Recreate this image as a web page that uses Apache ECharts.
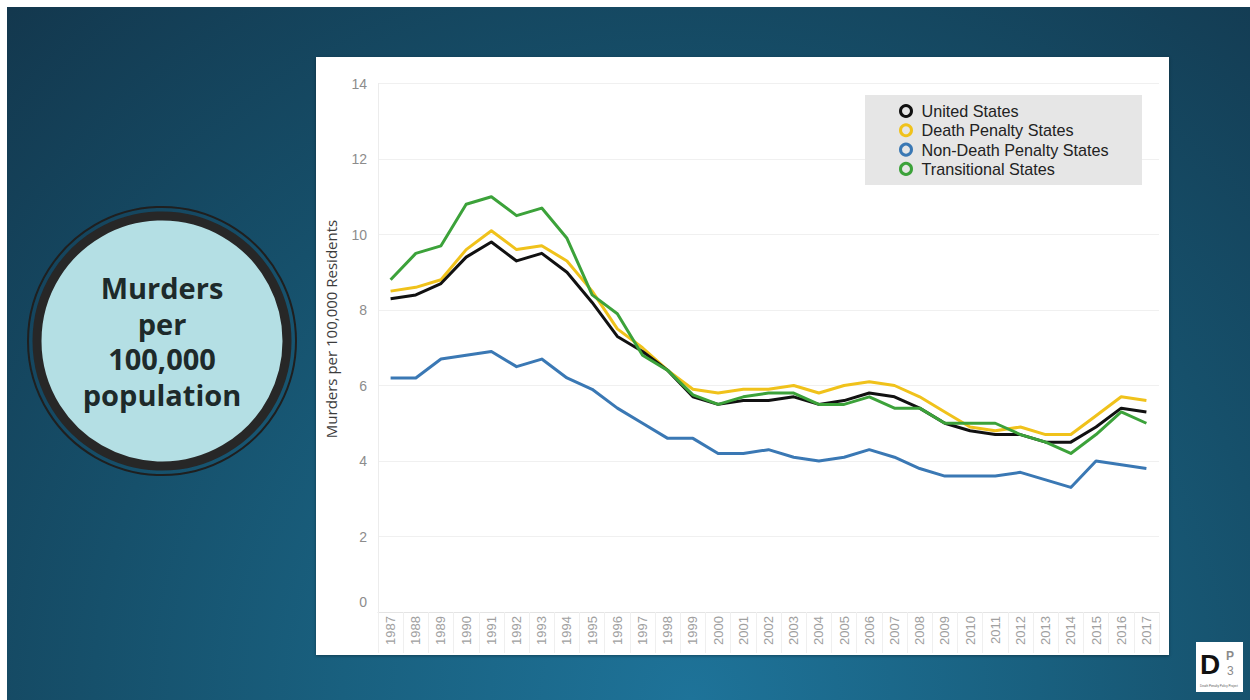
<!DOCTYPE html>
<html>
<head>
<meta charset="utf-8">
<script src="https://cdn.jsdelivr.net/npm/echarts@6/dist/echarts.min.js"></script>
<style>
  html, body { margin: 0; padding: 0; background: #ffffff; }
  #slide {
    position: absolute; left: 7px; top: 7px; width: 1243px; height: 693px;
    background: radial-gradient(ellipse 80% 140% at 55% 100%, #1e7399 0%, #19607f 35%, #16506b 60%, #13374d 100%);
  }
  #panel {
    position: absolute; left: 316px; top: 57px; width: 853px; height: 598px;
    background: #ffffff; box-shadow: 0 1px 3px rgba(0,0,0,0.35);
  }
  #chart { position: absolute; left: 0; top: 0; width: 1250px; height: 700px; }
</style>
</head>
<body>
<div id="slide"></div>
<div id="panel"></div>
<div id="chart"></div>
<script>
// Murder rate per 100,000 residents, 1987-2017
const years = ['1987','1988','1989','1990','1991','1992','1993','1994','1995','1996',
  '1997','1998','1999','2000','2001','2002','2003','2004','2005','2006',
  '2007','2008','2009','2010','2011','2012','2013','2014','2015','2016','2017'];

const unitedStates = [8.3, 8.4, 8.7, 9.4, 9.8, 9.3, 9.5, 9.0, 8.2, 7.3,
  6.9, 6.4, 5.7, 5.5, 5.6, 5.6, 5.7, 5.5, 5.6, 5.8,
  5.7, 5.4, 5.0, 4.8, 4.7, 4.7, 4.5, 4.5, 4.9, 5.4, 5.3];

const deathPenaltyStates = [8.5, 8.6, 8.8, 9.6, 10.1, 9.6, 9.7, 9.3, 8.5, 7.5,
  7.0, 6.4, 5.9, 5.8, 5.9, 5.9, 6.0, 5.8, 6.0, 6.1,
  6.0, 5.7, 5.3, 4.9, 4.8, 4.9, 4.7, 4.7, 5.2, 5.7, 5.6];

const nonDeathPenaltyStates = [6.2, 6.2, 6.7, 6.8, 6.9, 6.5, 6.7, 6.2, 5.9, 5.4,
  5.0, 4.6, 4.6, 4.2, 4.2, 4.3, 4.1, 4.0, 4.1, 4.3,
  4.1, 3.8, 3.6, 3.6, 3.6, 3.7, 3.5, 3.3, 4.0, 3.9, 3.8];

const transitionalStates = [8.8, 9.5, 9.7, 10.8, 11.0, 10.5, 10.7, 9.9, 8.4, 7.9,
  6.8, 6.4, 5.75, 5.5, 5.7, 5.8, 5.8, 5.5, 5.5, 5.7,
  5.4, 5.4, 5.0, 5.0, 5.0, 4.7, 4.5, 4.2, 4.7, 5.3, 5.0];

const seriesNames = ['United States', 'Death Penalty States', 'Non-Death Penalty States', 'Transitional States'];
const seriesColors = ['#111111', '#f0c21b', '#3a78b4', '#3ca23a'];
const seriesData = [unitedStates, deathPenaltyStates, nonDeathPenaltyStates, transitionalStates];
const seriesOrder = [5, 4, 3, 6];

const yTicks = { min: 0, max: 14, step: 2 };

const chart = echarts.init(document.getElementById('chart'), null, { renderer: 'svg' });

const option = {
  animation: false,
  grid: { left: 378, top: 83.5, width: 781, height: 528.5, containLabel: false },
  xAxis: {
    type: 'category',
    data: years,
    boundaryGap: true,
    axisLine: { show: true, lineStyle: { color: '#e4e4e4', width: 1 } },
    axisTick: { show: true, interval: 0, length: 41, lineStyle: { color: '#efefef' } },
    axisLabel: {
      interval: 0, rotate: 90, margin: 4,
      color: '#a0a0a0', fontSize: 13, fontFamily: 'Liberation Sans'
    },
    splitLine: { show: false }
  },
  yAxis: {
    type: 'value',
    min: yTicks.min, max: yTicks.max, interval: yTicks.step,
    axisLine: { show: true, lineStyle: { color: '#ececec' } },
    axisTick: { show: false },
    splitLine: { lineStyle: { color: '#f0f0f0', width: 1 } },
    axisLabel: {
      margin: 11, color: '#8c8c8c', fontSize: 14, fontFamily: 'Liberation Sans',
      formatter: function (v) { return v === 0 ? '{z|0}' : String(v); },
      rich: { z: { padding: [0, 0, 20, 0], color: '#8c8c8c', fontSize: 14, fontFamily: 'Liberation Sans' } }
    }
  },
  legend: {
    orient: 'vertical',
    left: 899, top: 103,
    padding: 0,
    itemWidth: 11, itemHeight: 11, itemGap: 3.3,
    icon: 'circle',
    textStyle: { fontSize: 16.2, color: '#222222', fontFamily: 'Liberation Sans', padding: [0, 0, 0, 5] },
    data: seriesNames.map((n, i) => ({
      name: n,
      itemStyle: { color: '#e6e6e6', borderColor: seriesColors[i], borderWidth: 3 }
    })),
    selectedMode: false,
    z: 5
  },
  series: seriesNames.map((n, i) => ({
    name: n,
    type: 'line',
    data: seriesData[i],
    symbol: 'none',
    color: seriesColors[i],
    lineStyle: { width: 3, color: seriesColors[i], join: 'round' },
    emphasis: { disabled: true },
    z: seriesOrder[i]
  })),
  graphic: [
    // legend backdrop
    { type: 'rect', z: 1, shape: { x: 865, y: 95, width: 277, height: 90 }, style: { fill: '#e6e6e6' } },
    // badge on the left
    { type: 'circle', z: 1, shape: { cx: 162, cy: 341, r: 134 }, style: { fill: 'none', stroke: '#1f1f1f', lineWidth: 2 } },
    { type: 'circle', z: 1, shape: { cx: 162, cy: 341, r: 125 }, style: { fill: '#b4dfe4', stroke: '#272727', lineWidth: 9 } },
    { type: 'text', z: 2, x: 162, y: 341,
      style: { text: 'Murders\nper\n100,000\npopulation', fill: '#1e2a2a', font: 'bold 29px "Open Sans"',
        lineHeight: 35.5, textAlign: 'center', textVerticalAlign: 'middle' } },
    // y axis title
    { type: 'text', z: 2, x: 331, y: 329, rotation: Math.PI / 2,
      style: { text: 'Murders per 100,000 Residents', fill: '#3c3c3c', font: '15px "Open Sans"', textAlign: 'center', textVerticalAlign: 'middle' } },
    // logo block
    { type: 'rect', z: 1, shape: { x: 1196, y: 642, width: 47, height: 50 }, style: { fill: '#ffffff' } },
    { type: 'text', z: 2, x: 1200, y: 664, style: { text: 'D', fill: '#111111', font: 'bold 28px "Liberation Sans"', textAlign: 'left', textVerticalAlign: 'middle' } },
    { type: 'text', z: 2, x: 1226, y: 656, style: { text: 'P', fill: '#8a8a8a', font: 'bold 12px "Liberation Sans"', textAlign: 'left', textVerticalAlign: 'middle' } },
    { type: 'text', z: 2, x: 1227, y: 671, style: { text: '3', fill: '#8a8a8a', font: '12px "Liberation Sans"', textAlign: 'left', textVerticalAlign: 'middle' } },
    { type: 'text', z: 2, x: 1219, y: 686, style: { text: 'Death Penalty Policy Project', fill: '#555555', font: '3px "Liberation Sans"', textAlign: 'center', textVerticalAlign: 'middle' } }
  ]
};

chart.setOption(option);
</script>
</body>
</html>
